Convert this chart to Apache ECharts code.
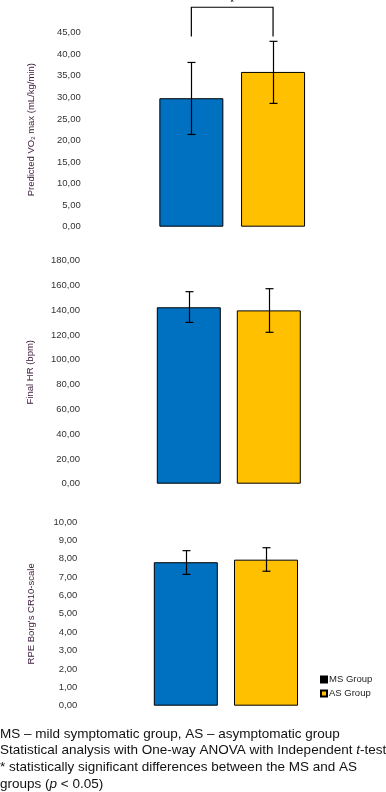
<!DOCTYPE html>
<html><head><meta charset="utf-8">
<script src="https://cdn.jsdelivr.net/npm/echarts@6/dist/echarts.min.js"></script>
<style>html,body{margin:0;padding:0;background:#fff}#c{width:386px;height:792px}</style>
</head><body><div id="c"></div>
<script>
const groups = ['MS Group', 'AS Group'];
const vo2Mean = [29.8, 35.9];
const vo2Low = [21.4, 28.6];
const vo2High = [38.1, 43.0];
const vo2Ticks = {min: 0, max: 45, interval: 5};
const hrMean = [142.4, 139.9];
const hrLow = [130.2, 122.2];
const hrHigh = [155.0, 157.4];
const hrTicks = {min: 0, max: 180, interval: 20};
const rpeMean = [7.81, 7.95];
const rpeLow = [7.15, 7.32];
const rpeHigh = [8.44, 8.60];
const rpeTicks = {min: 0, max: 10, interval: 1};
const sigBracket = [44.1, 50.9]; // bracket foot / top in VO2 units

const colors = ['#0070C0', '#FFC000'];
const chart = echarts.init(document.getElementById('c'));
const fmt = v => v.toFixed(2).replace('.', ',');
const font = 'Liberation Sans, Arial, sans-serif';

const grids = [
  {left: 150.5, width: 163.4, top: 32.7, height: 194},
  {left: 148.8, width: 160, top: 260.7, height: 223},
  {left: 145.7, width: 160.4, top: 522, height: 183.7}
];
const yDefs = [
  {t: vo2Ticks, name: 'Predicted VO{sub|2} max (mL/kg/min)', gap: 114, margin: 69.8},
  {t: hrTicks, name: 'Final HR (bpm)', gap: 113, margin: 68.8},
  {t: rpeTicks, name: "RPE Borg's CR10-scale", gap: 109.7, margin: 68.4}
];
const means = [vo2Mean, hrMean, rpeMean];
const lows = [vo2Low, hrLow, rpeLow];
const highs = [vo2High, hrHigh, rpeHigh];

const xAxis = grids.map((g, i) => ({
  type: 'category', gridIndex: i, data: groups,
  axisLine: {show: false}, axisTick: {show: false}, axisLabel: {show: false}
}));
const yAxis = yDefs.map((d, i) => ({
  type: 'value', gridIndex: i, min: d.t.min, max: d.t.max, interval: d.t.interval,
  axisLine: {show: false}, axisTick: {show: false}, splitLine: {show: false},
  axisLabel: {formatter: fmt, color: '#333', fontSize: 9.5, fontFamily: font, margin: d.margin},
  name: d.name, nameLocation: 'middle', nameGap: d.gap, nameRotate: 90,
  nameTextStyle: {color: '#3a1a3a', fontSize: 9.5, fontFamily: font,
    rich: {sub: {fontSize: 6, fontFamily: font, color: '#3a1a3a', verticalAlign: 'bottom', padding: [4, 0, 0, 0]}}}
}));

const series = [];
means.forEach((m, i) => {
  groups.forEach((gname, k) => {
    series.push({
      type: 'bar', name: gname, xAxisIndex: i, yAxisIndex: i,
      data: m.map((v, j) => j === k ? v : '-'),
      barWidth: 64, barGap: '-100%',
      itemStyle: {color: colors[k], borderColor: '#000', borderWidth: 1}
    });
  });
  series.push({
    type: 'custom', name: 'err' + i, xAxisIndex: i, yAxisIndex: i, z: 5,
    data: m.map((v, j) => [j, lows[i][j], highs[i][j]]),
    renderItem: (params, api) => {
      const top = api.coord([api.value(0), api.value(2)]);
      const bot = api.coord([api.value(0), api.value(1)]);
      const x = Math.round(top[0]) + 0.5, c = 4;
      const st = {stroke: '#000', lineWidth: 1.2};
      return {type: 'group', children: [
        {type: 'line', shape: {x1: x, y1: top[1], x2: x, y2: bot[1]}, style: st},
        {type: 'line', shape: {x1: x - c, y1: top[1], x2: x + c, y2: top[1]}, style: st},
        {type: 'line', shape: {x1: x - c, y1: bot[1], x2: x + c, y2: bot[1]}, style: st}
      ]};
    }
  });
});
series.push({
  type: 'custom', name: 'sig', xAxisIndex: 0, yAxisIndex: 0, z: 5, clip: false,
  data: [[0, 1, sigBracket[0], sigBracket[1]]],
  renderItem: (params, api) => {
    const a = api.coord([api.value(0), api.value(2)]);
    const b = api.coord([api.value(0), api.value(3)]);
    const c = api.coord([api.value(1), api.value(3)]);
    const d = api.coord([api.value(1), api.value(2)]);
    return {type: 'group', children: [
      {type: 'polyline', shape: {points: [a, b, c, d]}, style: {stroke: '#000', lineWidth: 1.2, fill: null}},
      {type: 'text', style: {text: '*', x: (b[0] + c[0]) / 2, y: b[1] - 4, textAlign: 'center', textVerticalAlign: 'middle', fontSize: 11, fontFamily: font, fill: '#000'}}
    ]};
  }
});

chart.setOption({
  animation: false,
  grid: grids,
  xAxis, yAxis, series,
  legend: {
    data: [{name: 'MS Group', itemStyle: {color: '#000'}}, {name: 'AS Group'}],
    orient: 'vertical', left: 320, top: 674.5, padding: 0, itemWidth: 6, itemHeight: 6, itemGap: 4,
    icon: 'rect', selectedMode: false,
    textStyle: {fontSize: 9.5, fontFamily: font, color: '#222', padding: [0, 0, 0, -3]}
  },
  title: {
    left: 0, top: 725.6, padding: 0,
    text: 'MS – mild symptomatic group, AS – asymptomatic group\nStatistical analysis with One-way ANOVA with Independent {i|t}-test\n* statistically significant differences between the MS and AS\ngroups ({i|p} < 0.05)',
    textStyle: {fontSize: 13.5, fontWeight: 'normal', fontFamily: font, color: '#111', lineHeight: 16.7,
      rich: {i: {fontStyle: 'italic', fontSize: 13.5, fontFamily: font, color: '#111', lineHeight: 16.7}}}
  }
});
</script></body></html>
